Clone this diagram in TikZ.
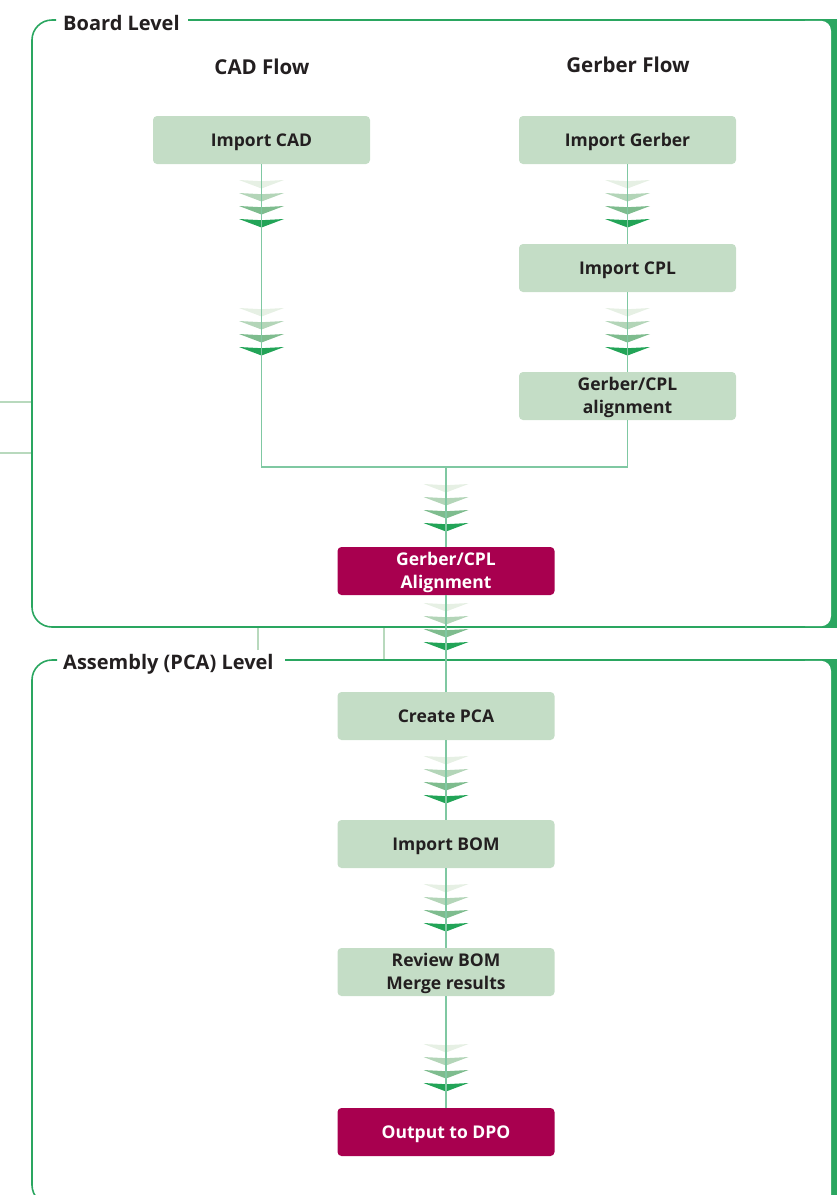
\documentclass[tikz,border=0pt]{standalone}
\usepackage{fontspec}
\setmainfont{Open Sans}
\definecolor{boxg}{HTML}{C4DDC6}
\definecolor{mag}{HTML}{A8004F}
\definecolor{frameg}{HTML}{2AA660}
\definecolor{lineg}{HTML}{7FC8A2}
\definecolor{decog}{HTML}{B8D9BD}
\definecolor{txt}{HTML}{231F20}
\definecolor{chevA}{HTML}{E6F0E4}
\definecolor{chevB}{HTML}{B3D5B8}
\definecolor{chevC}{HTML}{7EBC8E}
\definecolor{chevD}{HTML}{22A457}
\tikzset{
  box/.style={rectangle, rounded corners=4pt, fill=boxg, minimum width=217pt, minimum height=48pt,
    font=\fontsize{17.5}{23}\selectfont\bfseries, text=txt, align=center, inner sep=0pt,
    text height=12.6pt, text depth=0pt},
  twoline/.style={text height=35.6pt, text depth=0pt},
  keybox/.style={box, fill=mag, text=white},
  conn/.style={draw=lineg, line width=1.7pt},
  frameline/.style={draw=frameg, line width=1.6pt},
  deco/.style={draw=decog, line width=1.6pt},
  heading/.style={font=\fontsize{20.5}{23}\selectfont\bfseries, text=txt, inner sep=0pt},
  leveltitle/.style={font=\fontsize{20}{22}\selectfont\bfseries, text=txt, inner sep=0pt, anchor=west},
  chevs/.pic={
    \fill[chevA] (-22.5,0) -- (0,1.2) -- (22.5,0) -- (0,8.5) -- cycle;
    \fill[chevB] (-22.5,13) -- (0,14.2) -- (22.5,13) -- (0,21.5) -- cycle;
    \fill[chevC] (-22.5,26) -- (0,27.2) -- (22.5,26) -- (0,34.5) -- cycle;
    \fill[chevD] (-22.5,39) -- (0,40.2) -- (22.5,39) -- (0,47.5) -- cycle;
  }
}
\begin{document}
\begin{tikzpicture}[x=1pt,y=-1pt]
\useasboundingbox (0,0) rectangle (837,1195);
\clip (0,0) rectangle (837,1195);
% ---- Board level frame ----
\fill[frameg] (800,19.2) rectangle (837,627.8);
\fill[white, rounded corners=10pt] (790,20.8) rectangle (831,626.2);
\draw[frameline, rounded corners=20pt] (56,20) -- (32,20) -- (32,627) -- (805,627);
\draw[frameline] (188,20) -- (805,20);
\node[leveltitle] (boardt) at (63,23) {Board Level};
% ---- Assembly level frame ----
\fill[frameg] (800,659.2) rectangle (837,1230);
\fill[white, rounded corners=10pt] (790,660.8) rectangle (831,1240);
\draw[frameline, rounded corners=20pt] (57,660) -- (32,660) -- (32,1205) -- (805,1205);
\draw[frameline] (285,660) -- (805,660);
\node[leveltitle] (asst) at (63,664) {Assembly (PCA) Level};
% ---- decorative stubs ----
\draw[deco] (0,402) -- (31,402);
\draw[deco] (0,453) -- (31,453);
\draw[deco] (258,628) -- (258,650);
\draw[deco] (384,628) -- (384,659);
% ---- headings ----
\node[heading] (cadh) at (262,67) {CAD Flow};
\node[heading] (gerh) at (628,65) {Gerber Flow};
% ---- nodes ----
\node[box] (cad) at (261.5,140) {Import CAD};
\node[box] (gerb) at (627.5,140) {Import Gerber};
\node[box] (cpl) at (627.5,268) {Import CPL};
\node[box, twoline] (galign) at (627.5,396) {Gerber/CPL\\alignment};
\node[keybox, twoline] (GA) at (446,571) {Gerber/CPL\\Alignment};
\node[box] (pca) at (446,716) {Create PCA};
\node[box] (bom) at (446,844) {Import BOM};
\node[box, twoline] (rev) at (446,972) {Review BOM\\Merge results};
\node[keybox] (dpo) at (446,1132) {Output to DPO};
\coordinate (j) at (446,467);
% ---- chevrons ----
\pic at (261.5,180) {chevs};
\pic at (261.5,308) {chevs};
\pic at (627.5,180) {chevs};
\pic at (627.5,308) {chevs};
\pic at (446,484) {chevs};
\pic at (446,603) {chevs};
\pic at (446,756) {chevs};
\pic at (446,884) {chevs};
\pic at (446,1044) {chevs};
% ---- connectors ----
\draw[conn] (cad) |- (j);
\draw[conn] (galign) |- (j);
\draw[conn] (gerb) -- (cpl);
\draw[conn] (cpl) -- (galign);
\draw[conn] (j) -- (GA);
\draw[conn] (GA) -- (pca);
\draw[conn] (pca) -- (bom);
\draw[conn] (bom) -- (rev);
\draw[conn] (rev) -- (dpo);
\end{tikzpicture}
\end{document}
